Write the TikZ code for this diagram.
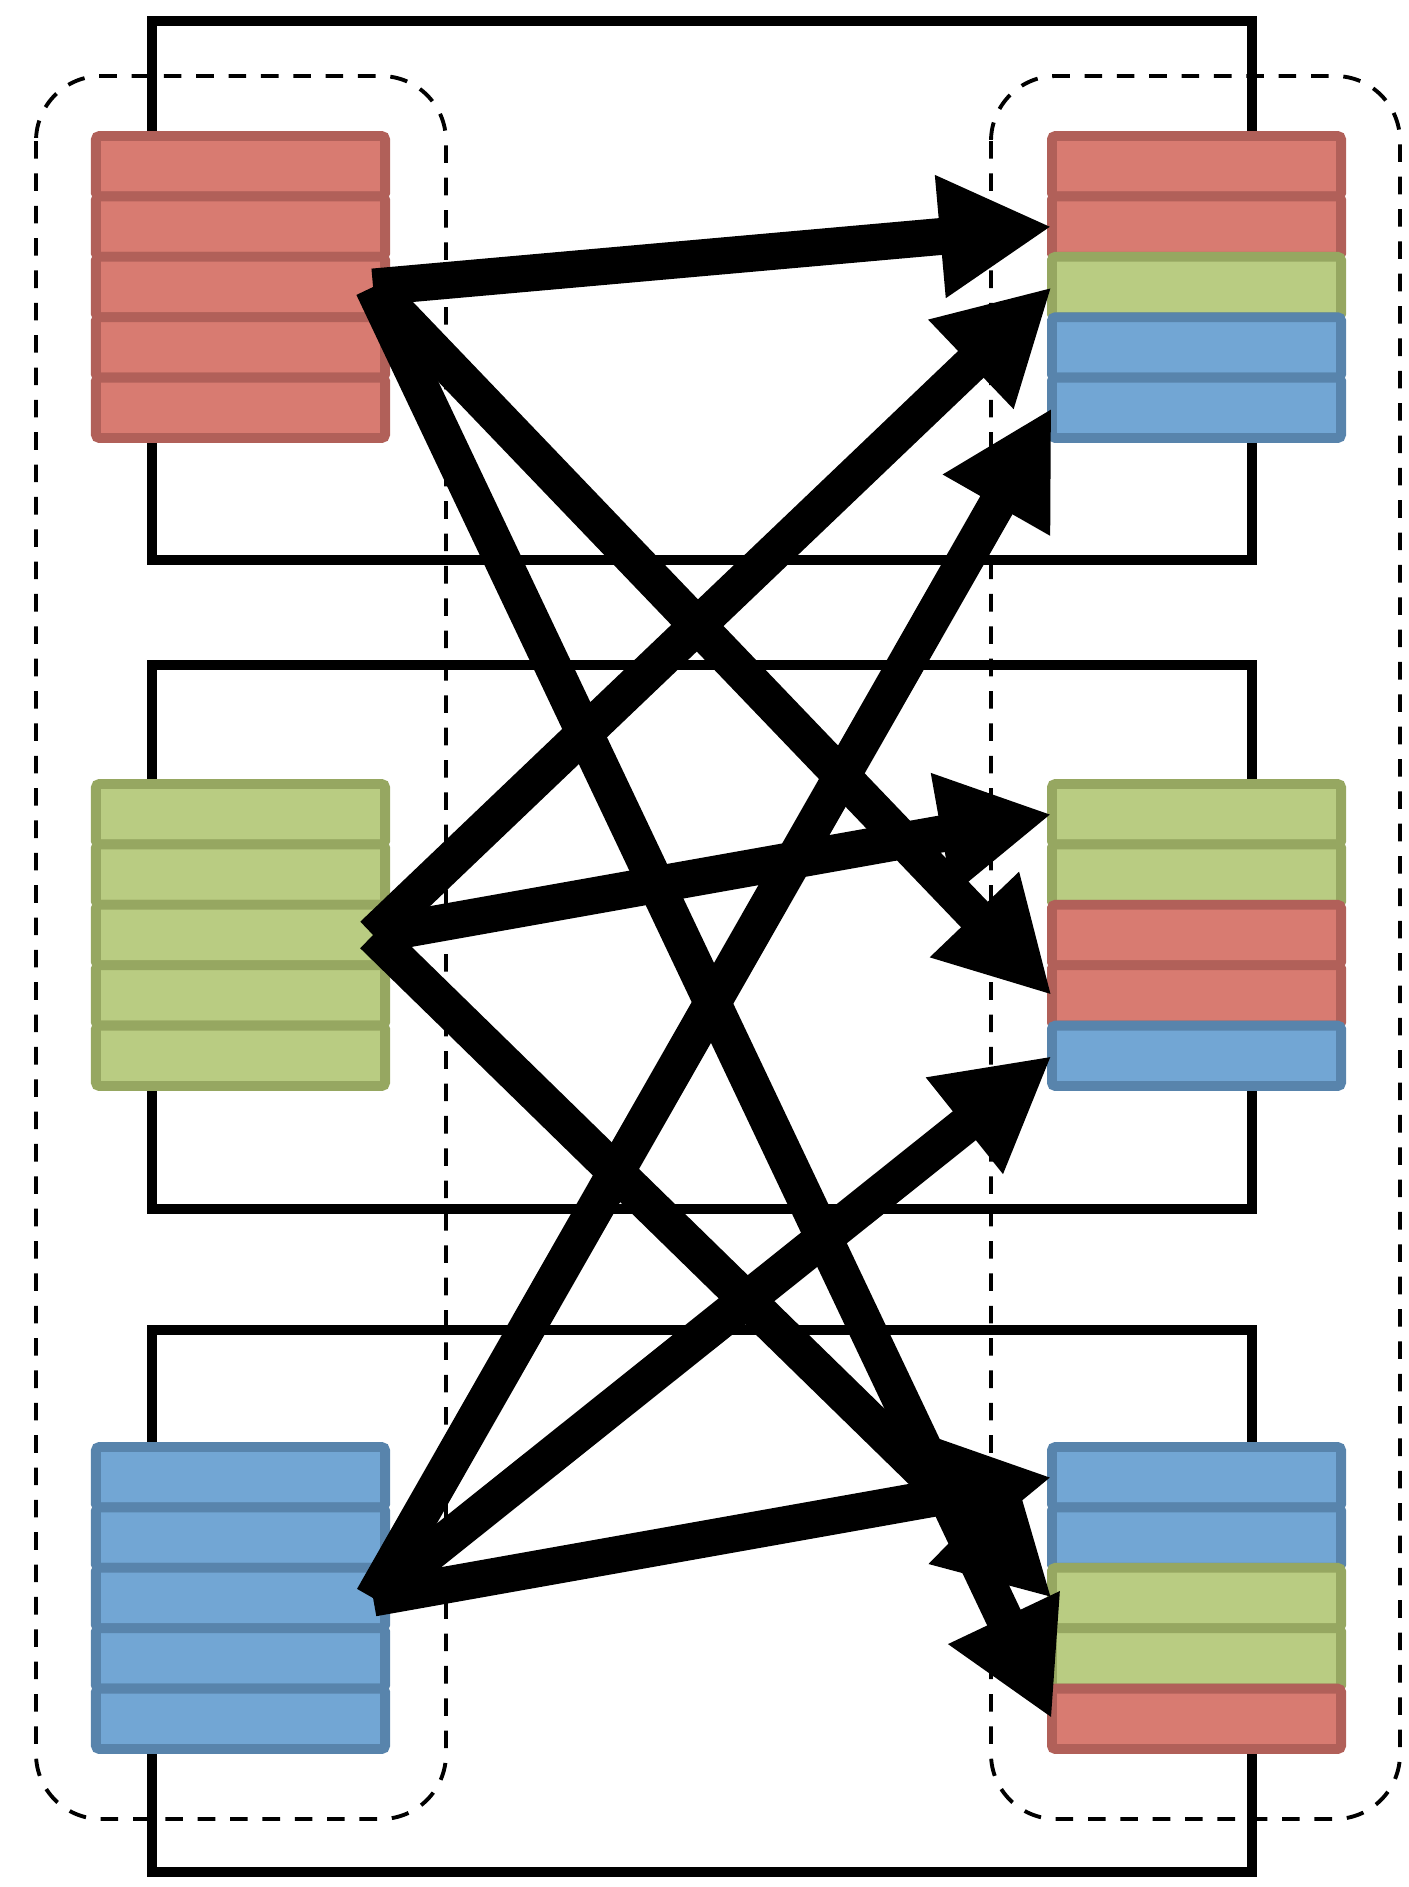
\documentclass[tikz,border=0pt]{standalone}
\usepackage{tikz}
\usetikzlibrary{arrows.meta}
\definecolor{cellred}{RGB}{216,123,113}
\definecolor{cellredrim}{RGB}{177,96,89}
\definecolor{cellgreen}{RGB}{185,204,130}
\definecolor{cellgreenrim}{RGB}{150,167,97}
\definecolor{cellblue}{RGB}{114,166,212}
\definecolor{cellbluerim}{RGB}{88,132,172}
\newcommand{\cellstack}[4]{%
  \foreach \col [count=\k] in {#4}{
    \node[cell=\col] (#1-\k) at (#2,{#3+(\k-0.5)*60.4}) {};
  }
}

\begin{document}
\begin{tikzpicture}[x=.01cm,y=-.01cm,
    cell/.style={draw=cell#1rim,fill=cell#1,line width=2.8pt,rounded corners=1pt,
      minimum width=2.89cm,minimum height=.604cm,inner sep=0pt,outer sep=0pt},
    machine/.style={line width=3pt},
    group/.style={line width=1.1pt,dash pattern=on 5pt off 4.2pt,rounded corners=.65cm},
    flow/.style={line width=10.5pt,-{Triangle[length=1.12cm,width=1.15cm]}}]
    \useasboundingbox (0,0) rectangle (1408,1887);
    % machines
    \draw[machine] (152,21) rectangle (1252,560);
    \draw[machine] (152,665) rectangle (1252,1209);
    \draw[machine] (152,1330) rectangle (1252,1872);
    % before / after groups
    \draw[group] (36,76) rectangle (446,1819);
    \draw[group] (991,76) rectangle (1400,1819);
    % partitions
    \cellstack{L1}{240.5}{136}{red,red,red,red,red}
    \cellstack{L2}{240.5}{784}{green,green,green,green,green}
    \cellstack{L3}{240.5}{1447}{blue,blue,blue,blue,blue}
    \cellstack{R1}{1196.5}{136}{red,red,green,blue,blue}
    \cellstack{R2}{1196.5}{784}{green,green,red,red,blue}
    \cellstack{R3}{1196.5}{1447}{blue,blue,green,green,red}
    % shuffle
    \draw[flow] ([xshift=-.12cm]L1-3.east) -- (R1-2.west);
    \draw[flow] ([xshift=-.12cm]L1-3.east) -- (R2-4.west);
    \draw[flow] ([xshift=-.12cm]L1-3.east) -- (R3-5.west);
    \draw[flow] ([xshift=-.12cm]L2-3.east) -- (R1-3.west);
    \draw[flow] ([xshift=-.12cm]L2-3.east) -- (R2-1.west);
    \draw[flow] ([xshift=-.12cm]L2-3.east) -- (R3-3.west);
    \draw[flow] ([xshift=-.12cm]L3-3.east) -- (R1-5.west);
    \draw[flow] ([xshift=-.12cm]L3-3.east) -- (R2-5.west);
    \draw[flow] ([xshift=-.12cm]L3-3.east) -- (R3-1.west);
\end{tikzpicture}
\end{document}
